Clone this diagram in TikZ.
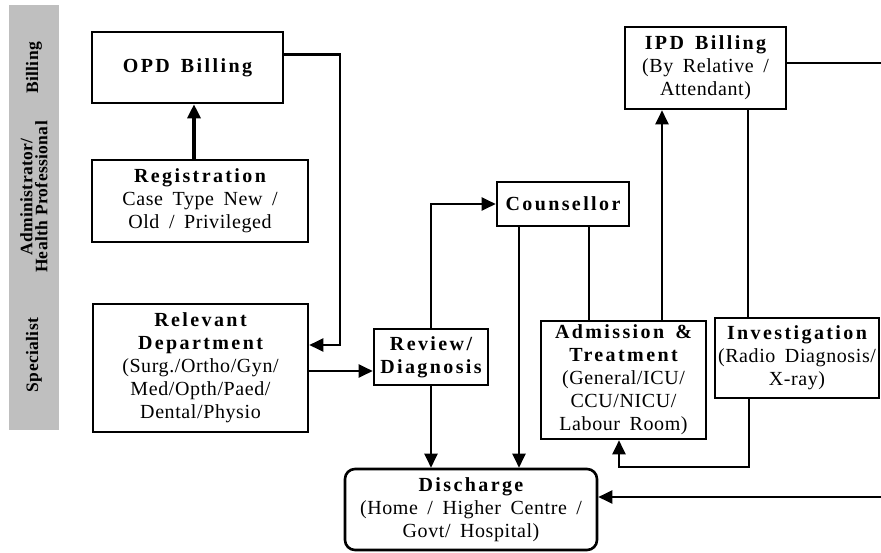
\documentclass[tikz,border=0pt]{standalone}
\usepackage{fontspec}
\setmainfont{Liberation Serif}
\newfontfamily\bodyface[LetterSpace=3,WordSpace=1.7]{Liberation Serif}
\newfontfamily\headface[LetterSpace=12,WordSpace=1.5]{Liberation Serif}
\newfontfamily\laneface[LetterSpace=2]{Liberation Serif}
\usepackage{tikz}
\usetikzlibrary{
  arrows.meta,
  positioning,
  calc
}
\usepackage{xcolor}
\definecolor{laneGray}{rgb}{0.75,0.75,0.75}
\newcommand{\boxhead}[1]{{\headface\bfseries #1}}
\tikzset{
  block/.style={
    draw,
    line width=2.6pt,
    align=center,
    inner sep=1pt,
    font=\bodyface\fontsize{20}{23}\selectfont
  },
  flow/.style={line width=2.2pt},
  lane/.style={
    rotate=90,
    align=center,
    font=\laneface\bfseries\fontsize{17.5}{15}\selectfont
  }
}

\begin{document}
\begin{tikzpicture}[
      x=1pt, y=-1pt,
      >={Triangle[length=14pt,width=13pt]}
      ]
      \useasboundingbox (0,0) rectangle (881,552);

      % lanes
      \fill[laneGray] (9,5) rectangle (59,430);
      \node[lane] (billing) at (34,68) {Billing};
      \node[lane] (admin) at (34,197) {Administrator/\\Health Professional};
      \node[lane] (specialist) at (34,355) {Specialist};

      % boxes
      \node[block, minimum width=191pt, minimum height=71pt] (opd) at (187.5,67.5)
        {\boxhead{OPD Billing}};
      \node[block, minimum width=216pt, minimum height=82pt] (reg) at (200,201)
        {\boxhead{Registration}\\Case Type New /\\Old / Privileged};
      \node[block, minimum width=215pt, minimum height=128pt] (rel) at (200.5,368)
        {\boxhead{Relevant}\\\boxhead{Department}\\(Surg./Ortho/Gyn/\\Med/Opth/Paed/\\Dental/Physio};
      \node[block, minimum width=114pt, minimum height=56pt] (rev) at (431,357)
        {\boxhead{Review/}\\\boxhead{Diagnosis}};
      \node[block, minimum width=132pt, minimum height=44pt] (cou) at (563,204)
        {\boxhead{Counsellor}};
      \node[block, minimum width=165pt, minimum height=118pt] (adm) at (623.5,380)
        {\boxhead{Admission \&}\\\boxhead{Treatment}\\(General/ICU/\\CCU/NICU/\\Labour Room)};
      \node[block, minimum width=161pt, minimum height=82pt] (ipd) at (705.5,68)
        {\boxhead{IPD Billing}\\(By Relative /\\Attendant)};
      \node[block, minimum width=164pt, minimum height=80pt] (inv) at (797,358)
        {\boxhead{Investigation}\\(Radio Diagnosis/\\X-ray)};
      \node[block, rounded corners=10pt, minimum width=252pt, minimum height=81pt] (dis) at (471,509.5)
        {\boxhead{Discharge}\\(Home / Higher Centre /\\Govt/ Hospital)};

      % bend points
      \coordinate (regtop) at ([xshift=-6pt]reg.north);
      \coordinate (opdout) at ([yshift=13pt]opd.east);
      \coordinate (relin) at ([yshift=23pt]rel.east);
      \coordinate (relout) at ([yshift=-3pt]rel.east);
      \coordinate (billturn) at (340,0);
      \coordinate (couL) at ([xshift=-44pt]cou.south);
      \coordinate (couR) at ([xshift=26pt]cou.south);
      \coordinate (admR) at ([xshift=38.5pt]adm.north);
      \coordinate (admB) at ([xshift=-4.5pt]adm.south);
      \coordinate (ipdR) at ([xshift=42.5pt]ipd.south);
      \coordinate (ipdout) at ([yshift=5pt]ipd.east);
      \coordinate (invL) at ([xshift=-48pt]inv.south);
      \coordinate (loop) at (0,467);
      \coordinate (disin) at ([yshift=12.5pt]dis.east);
      \coordinate (rightedge) at (881,0);

      % connectors
      \draw[->, line width=3.2pt] (regtop) -- (regtop |- opd.south);
      \draw[->, flow] (opdout) -| (billturn |- relin) -- (relin);
      \draw[->, flow] (relout) -- (relout -| rev.west);
      \draw[->, flow] (rev.north) |- (cou.west);
      \draw[->, flow] (rev.south) -- (rev.south |- dis.north);
      \draw[->, flow] (couL) -- (couL |- dis.north);
      \draw[flow] (couR) -- (couR |- adm.north);
      \draw[->, flow] (admR) -- (admR |- ipd.south);
      \draw[flow] (ipdR) -- (ipdR |- inv.north);
      \draw[->, flow] (invL) -- (invL |- loop) -| (admB);
      \draw[flow] (ipdout) -- (ipdout -| rightedge);
      \draw[->, flow] (disin -| rightedge) -- (disin);
    \end{tikzpicture}
\end{document}
